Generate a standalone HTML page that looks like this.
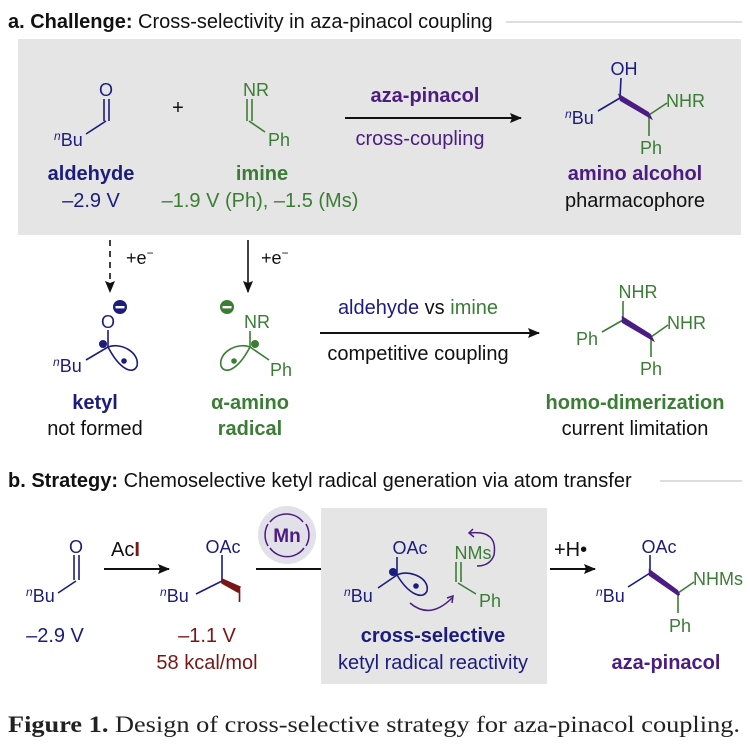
<!DOCTYPE html>
<html><head><meta charset="utf-8"><style>
html,body{margin:0;padding:0;background:#fff;}
svg{display:block;font-family:"Liberation Sans",Arial,sans-serif;}
.b{fill:#1c1c7e}.g{fill:#3b7d35}.p{fill:#4b1c82}.r{fill:#7a1616}.k{fill:#111}
</style></head><body>
<svg width="750" height="752" viewBox="0 0 750 752" xmlns="http://www.w3.org/2000/svg">
<defs>
<marker id="ah" markerWidth="12" markerHeight="10" refX="11" refY="5" orient="auto" markerUnits="userSpaceOnUse"><path d="M0,0 L12,5 L0,10 L2,5z" fill="#111"/></marker>
</defs>
<!-- Title a -->
<text x="8" y="28" font-size="20" class="k"><tspan font-weight="bold">a. Challenge:</tspan> Cross-selectivity in aza-pinacol coupling</text>
<line x1="506" y1="22" x2="742" y2="22" stroke="#ddd" stroke-width="2"/>
<rect x="18" y="39" width="723" height="196" fill="#e5e5e5"/>
<!-- aldehyde -->
<g stroke="#1c1c7e" stroke-width="1.6" fill="none">
<line x1="104" y1="99" x2="104" y2="121"/><line x1="109" y1="99" x2="109" y2="121"/>
<line x1="106" y1="121" x2="86" y2="134"/>
</g>
<text x="106" y="96" font-size="18" text-anchor="middle" class="b">O</text>
<text x="54" y="146" font-size="18" class="b"><tspan font-size="12" font-style="italic" dy="-6">n</tspan><tspan dy="6">Bu</tspan></text>
<text x="178" y="114" font-size="20" text-anchor="middle" class="k">+</text>
<!-- imine -->
<g stroke="#3b7d35" stroke-width="1.6" fill="none">
<line x1="247" y1="99" x2="247" y2="121"/><line x1="252" y1="99" x2="252" y2="121"/>
<line x1="249" y1="121" x2="265" y2="132"/>
</g>
<text x="256" y="96" font-size="18" text-anchor="middle" class="g">NR</text>
<text x="268" y="146" font-size="18" class="g">Ph</text>
<text x="91" y="180" font-size="20" font-weight="bold" text-anchor="middle" class="b">aldehyde</text>
<text x="91" y="207" font-size="20" text-anchor="middle" class="b">–2.9 V</text>
<text x="262" y="180" font-size="20" font-weight="bold" text-anchor="middle" class="g">imine</text>
<text x="260" y="207" font-size="20" text-anchor="middle" class="g">–1.9 V (Ph), –1.5 (Ms)</text>
<line x1="345" y1="118" x2="521" y2="118" stroke="#111" stroke-width="2" marker-end="url(#ah)"/>
<text x="425" y="102" font-size="20" font-weight="bold" text-anchor="middle" class="p">aza-pinacol</text>
<text x="420" y="145" font-size="20" text-anchor="middle" class="p">cross-coupling</text>
<!-- amino alcohol -->
<g stroke-width="1.6" fill="none">
<line x1="621" y1="78" x2="620" y2="98" stroke="#1c1c7e"/>
<line x1="620" y1="98" x2="598" y2="111" stroke="#1c1c7e"/>
<line x1="649" y1="115" x2="667" y2="103" stroke="#3b7d35"/>
<line x1="649" y1="115" x2="649" y2="136" stroke="#3b7d35"/>
</g>
<polygon points="620,96 621,100 650,117 648,113" fill="#4b1c82" stroke="#4b1c82" stroke-width="2.5"/>
<text x="624" y="75" font-size="18" text-anchor="middle" class="b">OH</text>
<text x="565" y="124" font-size="18" class="b"><tspan font-size="12" font-style="italic" dy="-6">n</tspan><tspan dy="6">Bu</tspan></text>
<text x="666" y="107" font-size="18" class="g">NHR</text>
<text x="651" y="154" font-size="18" text-anchor="middle" class="g">Ph</text>
<text x="635" y="180" font-size="20" font-weight="bold" text-anchor="middle" class="p">amino alcohol</text>
<text x="635" y="207" font-size="20" text-anchor="middle" class="k">pharmacophore</text>
<!-- middle -->
<line x1="110" y1="240" x2="110" y2="292" stroke="#111" stroke-width="1.6" stroke-dasharray="6,5" marker-end="url(#ah)"/>
<text x="126" y="264" font-size="18" class="k">+e<tspan font-size="12" dy="-7">−</tspan></text>
<line x1="248" y1="240" x2="248" y2="292" stroke="#111" stroke-width="1.6" marker-end="url(#ah)"/>
<text x="261" y="264" font-size="18" class="k">+e<tspan font-size="12" dy="-7">−</tspan></text>
<!-- ketyl -->
<g stroke="#1c1c7e" stroke-width="1.6" fill="none">
<line x1="108" y1="330" x2="108" y2="347"/>
<line x1="108" y1="347" x2="86" y2="360"/>
<path d="M108,347 C120,342 140,352 137,366 C133,375 120,370 108,347z"/>
</g>
<circle cx="103" cy="344" r="4" fill="#1c1c7e"/>
<circle cx="124" cy="361" r="2.8" fill="#1c1c7e"/>
<text x="108" y="328" font-size="18" text-anchor="middle" class="b">O</text>
<circle cx="120" cy="307" r="7" fill="#1c1c7e"/><rect x="115.5" y="306" width="9" height="2.4" fill="#fff"/>
<text x="53" y="372" font-size="18" class="b"><tspan font-size="12" font-style="italic" dy="-6">n</tspan><tspan dy="6">Bu</tspan></text>
<!-- amino radical -->
<g stroke="#3b7d35" stroke-width="1.6" fill="none">
<line x1="250" y1="331" x2="250" y2="347"/>
<line x1="250" y1="347" x2="269" y2="360"/>
<path d="M250,347 C238,342 218,352 221,366 C225,375 238,370 250,347z"/>
</g>
<circle cx="255" cy="344" r="4" fill="#3b7d35"/>
<circle cx="234" cy="361" r="2.8" fill="#3b7d35"/>
<text x="257" y="328" font-size="18" text-anchor="middle" class="g">NR</text>
<circle cx="227" cy="307" r="7" fill="#3b7d35"/><rect x="222.5" y="306" width="9" height="2.4" fill="#fff"/>
<text x="270" y="376" font-size="18" class="g">Ph</text>
<text x="95" y="409" font-size="20" font-weight="bold" text-anchor="middle" class="b">ketyl</text>
<text x="95" y="435" font-size="20" text-anchor="middle" class="k">not formed</text>
<text x="250" y="409" font-size="20" font-weight="bold" text-anchor="middle" class="g">α-amino</text>
<text x="250" y="435" font-size="20" font-weight="bold" text-anchor="middle" class="g">radical</text>
<line x1="320" y1="333" x2="539" y2="333" stroke="#111" stroke-width="2" marker-end="url(#ah)"/>
<text x="418" y="314" font-size="20" text-anchor="middle"><tspan class="b">aldehyde</tspan><tspan class="k"> vs </tspan><tspan class="g">imine</tspan></text>
<text x="418" y="360" font-size="20" text-anchor="middle" class="k">competitive coupling</text>
<!-- homodimer -->
<g stroke="#3b7d35" stroke-width="1.6" fill="none">
<line x1="623" y1="301" x2="623" y2="320"/>
<line x1="623" y1="320" x2="602" y2="332"/>
<line x1="651" y1="337" x2="668" y2="325"/>
<line x1="651" y1="337" x2="651" y2="357"/>
</g>
<polygon points="623,318 623,322 652,339 650,335" fill="#4b1c82" stroke="#4b1c82" stroke-width="2.5"/>
<text x="638" y="298" font-size="18" text-anchor="middle" class="g">NHR</text>
<text x="576" y="345" font-size="18" class="g">Ph</text>
<text x="667" y="329" font-size="18" class="g">NHR</text>
<text x="651" y="375" font-size="18" text-anchor="middle" class="g">Ph</text>
<text x="635" y="409" font-size="20" font-weight="bold" text-anchor="middle" class="g">homo-dimerization</text>
<text x="635" y="435" font-size="20" text-anchor="middle" class="k">current limitation</text>
<!-- Title b -->
<text x="8" y="487" font-size="20" class="k"><tspan font-weight="bold">b. Strategy:</tspan> Chemoselective ketyl radical generation via atom transfer</text>
<line x1="660" y1="481" x2="742" y2="481" stroke="#ddd" stroke-width="2"/>
<rect x="321" y="508" width="226" height="176" fill="#e5e5e5"/>
<!-- aldehyde b -->
<g stroke="#1c1c7e" stroke-width="1.6" fill="none">
<line x1="74" y1="555" x2="74" y2="580"/><line x1="79" y1="555" x2="79" y2="580"/>
<line x1="76" y1="581" x2="58" y2="593"/>
</g>
<text x="76" y="553" font-size="18" text-anchor="middle" class="b">O</text>
<text x="26" y="602" font-size="18" class="b"><tspan font-size="12" font-style="italic" dy="-6">n</tspan><tspan dy="6">Bu</tspan></text>
<text x="55" y="642" font-size="20" text-anchor="middle" class="b">–2.9 V</text>
<line x1="104" y1="569" x2="169" y2="569" stroke="#111" stroke-width="2" marker-end="url(#ah)"/>
<text x="111" y="556" font-size="20" class="k">Ac<tspan class="r" font-weight="bold">I</tspan></text>
<!-- iodide -->
<g stroke="#1c1c7e" stroke-width="1.6" fill="none">
<line x1="222" y1="555" x2="222" y2="581"/>
<line x1="222" y1="581" x2="196" y2="594"/>
</g>
<polygon points="222,579 222,583 238,592 240,587" fill="#7a1616" stroke="#7a1616" stroke-width="1.5"/>
<text x="223" y="553" font-size="18" text-anchor="middle" class="b">OAc</text>
<text x="160" y="602" font-size="18" class="b"><tspan font-size="12" font-style="italic" dy="-6">n</tspan><tspan dy="6">Bu</tspan></text>
<text x="237" y="602" font-size="18" class="r">I</text>
<text x="207" y="642" font-size="20" text-anchor="middle" class="r">–1.1 V</text>
<text x="207" y="669" font-size="20" text-anchor="middle" class="r">58 kcal/mol</text>
<line x1="256" y1="569" x2="321" y2="569" stroke="#111" stroke-width="2"/>
<!-- Mn -->
<circle cx="287" cy="535" r="29" fill="#e2e0e8"/>
<path d="M270,522 A21,21 0 0 1 303,522" stroke="#4b1c82" stroke-width="1.5" fill="none"/>
<path d="M304,548 A21,21 0 0 1 270,548" stroke="#4b1c82" stroke-width="1.5" fill="none"/>
<path d="M268,524 A22,22 0 0 0 268,546" stroke="#4b1c82" stroke-width="1.5" fill="none"/>
<path d="M306,524 A22,22 0 0 1 306,546" stroke="#4b1c82" stroke-width="1.5" fill="none"/>
<text x="287" y="542" font-size="19" font-weight="bold" text-anchor="middle" class="p">Mn</text>
<!-- box content -->
<g stroke="#1c1c7e" stroke-width="1.6" fill="none">
<line x1="397" y1="557" x2="397" y2="575"/>
<line x1="397" y1="575" x2="378" y2="588"/>
<path d="M397,575 C409,569 430,578 427,591 C423,600 409,595 397,575z"/>
</g>
<circle cx="393" cy="572" r="4" fill="#1c1c7e"/>
<circle cx="416" cy="586" r="2.8" fill="#1c1c7e"/>
<text x="410" y="554" font-size="18" text-anchor="middle" class="b">OAc</text>
<text x="344" y="602" font-size="18" class="b"><tspan font-size="12" font-style="italic" dy="-6">n</tspan><tspan dy="6">Bu</tspan></text>
<g stroke="#3b7d35" stroke-width="1.6" fill="none">
<line x1="456" y1="562" x2="456" y2="582"/><line x1="461" y1="562" x2="461" y2="582"/>
<line x1="458" y1="583" x2="476" y2="594"/>
</g>
<text x="473" y="559" font-size="18" text-anchor="middle" class="g">NMs</text>
<text x="479" y="607" font-size="18" class="g">Ph</text>
<path d="M410,603 Q430,620 452,598" stroke="#4b1c82" stroke-width="1.5" fill="none"/>
<path d="M447,598 L453,596 L452,603" stroke="#4b1c82" stroke-width="1.5" fill="none"/>
<path d="M470,533 Q498,530 494,555 Q490,566 477,566" stroke="#4b1c82" stroke-width="1.5" fill="none"/>
<path d="M473,529 L469,533 L474,537" stroke="#4b1c82" stroke-width="1.5" fill="none"/>
<text x="433" y="642" font-size="20" font-weight="bold" text-anchor="middle" class="b">cross-selective</text>
<text x="433" y="669" font-size="20" text-anchor="middle" class="b">ketyl radical reactivity</text>
<line x1="550" y1="569" x2="595" y2="569" stroke="#111" stroke-width="2" marker-end="url(#ah)"/>
<text x="554" y="556" font-size="20" class="k">+H•</text>
<!-- product -->
<g stroke-width="1.6" fill="none">
<line x1="650" y1="555" x2="650" y2="573" stroke="#1c1c7e"/>
<line x1="650" y1="573" x2="628" y2="587" stroke="#1c1c7e"/>
<line x1="678" y1="593" x2="694" y2="582" stroke="#3b7d35"/>
<line x1="678" y1="593" x2="678" y2="613" stroke="#3b7d35"/>
</g>
<polygon points="650,571 650,575 679,595 677,591" fill="#4b1c82" stroke="#4b1c82" stroke-width="2.5"/>
<text x="659" y="553" font-size="18" text-anchor="middle" class="b">OAc</text>
<text x="596" y="602" font-size="18" class="b"><tspan font-size="12" font-style="italic" dy="-6">n</tspan><tspan dy="6">Bu</tspan></text>
<text x="693" y="585" font-size="18" class="g">NHMs</text>
<text x="680" y="632" font-size="18" text-anchor="middle" class="g">Ph</text>
<text x="666" y="669" font-size="20" font-weight="bold" text-anchor="middle" class="p">aza-pinacol</text>
<!-- caption -->
<text x="8" y="732" font-size="23" font-family="Liberation Serif, serif" fill="#222" textLength="732" lengthAdjust="spacingAndGlyphs"><tspan font-weight="bold">Figure 1.</tspan> Design of cross-selective strategy for aza-pinacol coupling.</text>
</svg>
</body></html>
